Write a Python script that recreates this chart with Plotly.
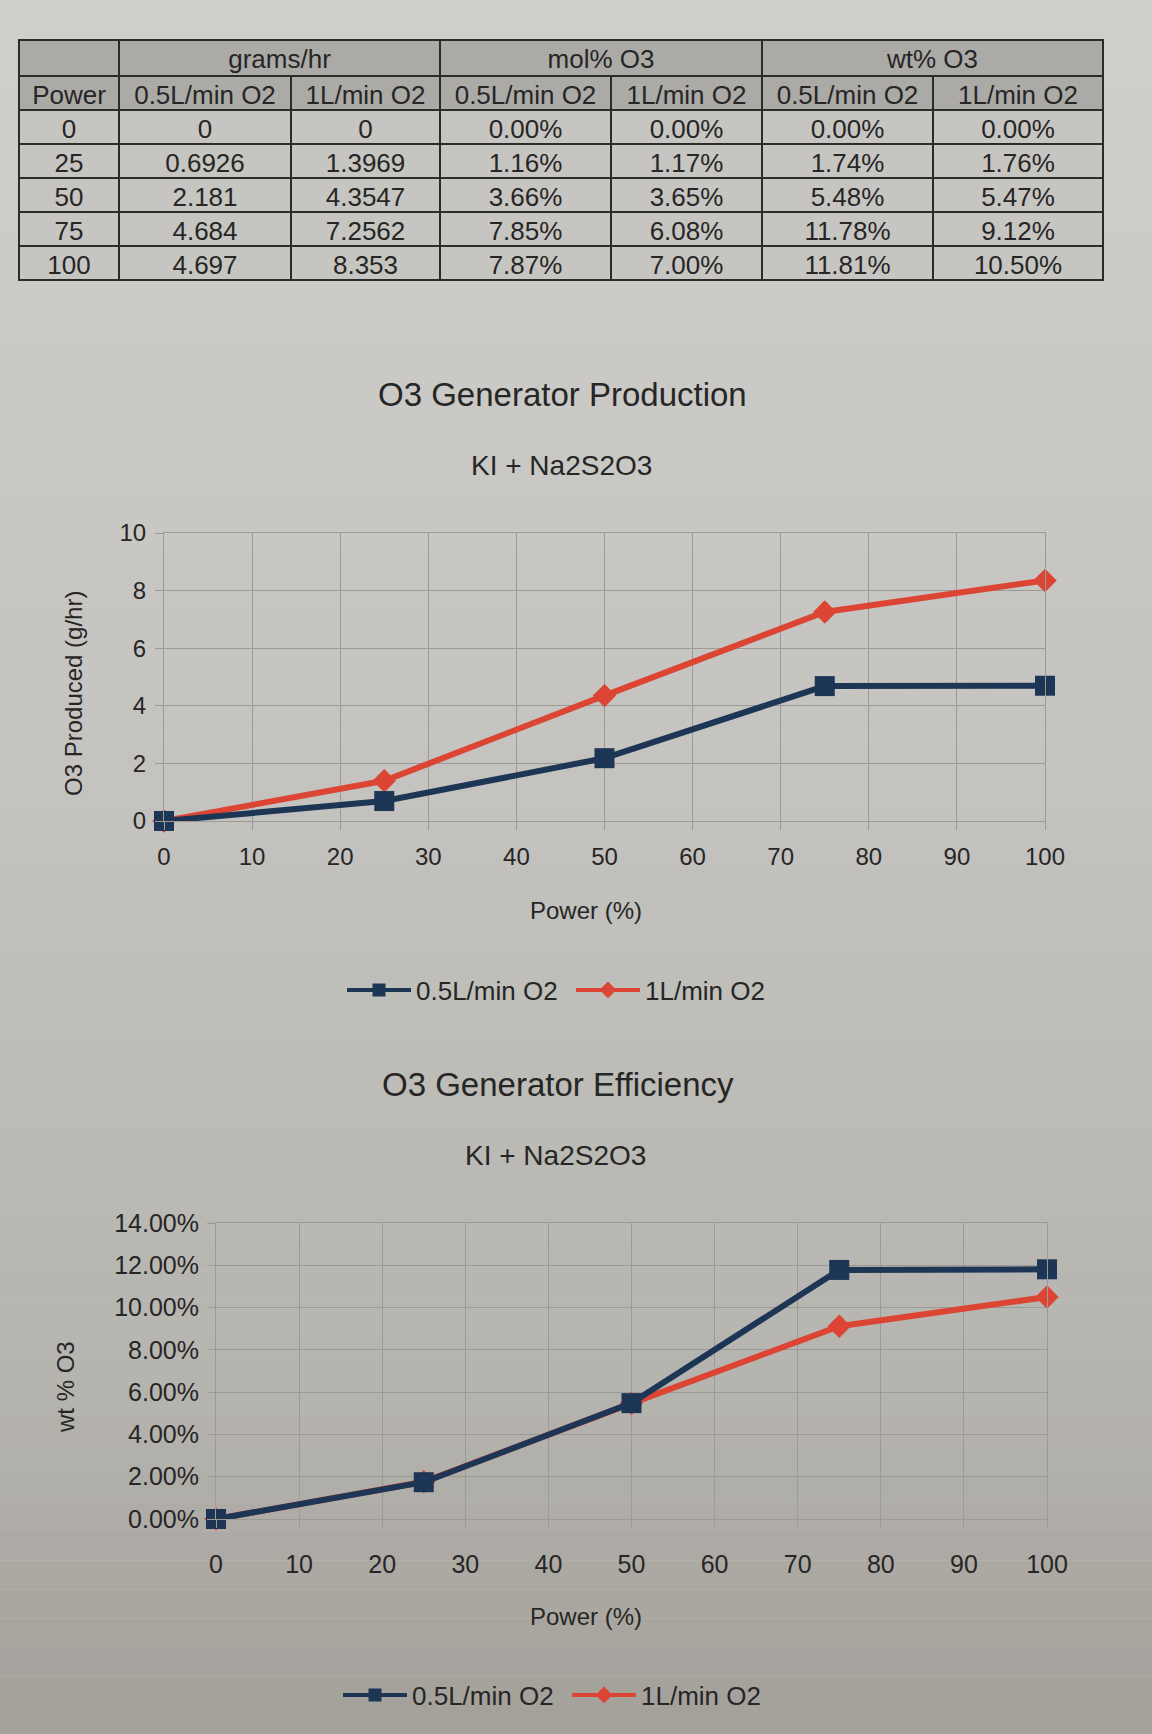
import plotly.graph_objects as go

# ---------------- data ----------------
power = [0, 25, 50, 75, 100]
gph_05 = [0, 0.6926, 2.181, 4.684, 4.697]
gph_1 = [0, 1.3969, 4.3547, 7.2562, 8.353]
mol_05 = [0.00, 1.16, 3.66, 7.85, 7.87]
mol_1 = [0.00, 1.17, 3.65, 6.08, 7.00]
wt_05 = [0.00, 1.74, 5.48, 11.78, 11.81]
wt_1 = [0.00, 1.76, 5.47, 9.12, 10.50]

group_headers = ["", "grams/hr", "mol% O3", "wt% O3"]
col_headers = ["Power", "0.5L/min O2", "1L/min O2", "0.5L/min O2",
               "1L/min O2", "0.5L/min O2", "1L/min O2"]
series_names = ["0.5L/min O2", "1L/min O2"]
x_ticks = [0, 10, 20, 30, 40, 50, 60, 70, 80, 90, 100]

# ---------------- styling ----------------
W, H = 1152, 1734
FONT = "Liberation Sans, Arial, sans-serif"
TXT = "#262626"
GRID = "#9b9a96"
BLUE = "#1d3656"
RED = "#dc4433"
HDR = "#abaaa6"
BODY = "#c6c5c1"
BORDER = "#2b2b2b"


def fx(v):
    return v / W


def fy(v):
    return 1 - v / H


fig = go.Figure()

# ---------------- table ----------------
fig.add_trace(go.Table(
    domain=dict(x=[fx(19), fx(1103)], y=[fy(80), fy(40)]),
    columnwidth=[100, 321, 322, 341],
    header=dict(values=group_headers, height=36, fill_color=HDR,
                line=dict(color=BORDER, width=2),
                font=dict(family=FONT, size=26, color=TXT), align="center"),
    cells=dict(values=[[] for _ in group_headers], height=1,
               fill_color="rgba(0,0,0,0)", line=dict(width=0)),
))

body_values = [
    [str(p) for p in power],
    [format(v, "g") for v in gph_05],
    [format(v, "g") for v in gph_1],
    [f"{v:.2f}%" for v in mol_05],
    [f"{v:.2f}%" for v in mol_1],
    [f"{v:.2f}%" for v in wt_05],
    [f"{v:.2f}%" for v in wt_1],
]
fig.add_trace(go.Table(
    domain=dict(x=[fx(19), fx(1103)], y=[fy(290), fy(76)]),
    columnwidth=[100, 172, 149, 171, 151, 171, 170],
    header=dict(values=col_headers, height=34, fill_color=HDR,
                line=dict(color=BORDER, width=2),
                font=dict(family=FONT, size=26, color=TXT), align="center"),
    cells=dict(values=body_values, height=34, fill_color=BODY,
               line=dict(color=BORDER, width=2),
               font=dict(family=FONT, size=26, color=TXT), align="center"),
))


def add_chart(xa, ya, leg, y05, y1):
    # red series drawn first so the blue series sits on top (as in the print)
    fig.add_trace(go.Scatter(x=power, y=y1, name=series_names[1], mode="lines+markers",
                             line=dict(color=RED, width=6),
                             marker=dict(symbol="diamond", size=18, color=RED),
                             cliponaxis=False, xaxis=xa, yaxis=ya, showlegend=False))
    fig.add_trace(go.Scatter(x=power, y=y05, name=series_names[0], mode="lines+markers",
                             line=dict(color=BLUE, width=6),
                             marker=dict(symbol="square", size=20, color=BLUE),
                             cliponaxis=False, xaxis=xa, yaxis=ya, showlegend=False))
    # legend entries (thinner keys, as in the print)
    fig.add_trace(go.Scatter(x=[None], y=[None], name=series_names[0], mode="lines+markers",
                             line=dict(color=BLUE, width=4),
                             marker=dict(symbol="square", size=13, color=BLUE),
                             xaxis=xa, yaxis=ya, legend=leg))
    fig.add_trace(go.Scatter(x=[None], y=[None], name=series_names[1], mode="lines+markers",
                             line=dict(color=RED, width=4),
                             marker=dict(symbol="diamond", size=13, color=RED),
                             xaxis=xa, yaxis=ya, legend=leg))


add_chart("x", "y", "legend", gph_05, gph_1)
add_chart("x2", "y2", "legend2", wt_05, wt_1)

AX = dict(showgrid=True, gridcolor=GRID, gridwidth=1,
          zeroline=True, zerolinecolor=GRID, zerolinewidth=1,
          showline=True, linecolor=GRID, linewidth=1, mirror=True,
          ticks="outside", ticklen=8, tickcolor=GRID, tickwidth=1,
          automargin=False)

fig.update_layout(
    xaxis=dict(AX, domain=[fx(164), fx(1045)], range=[0, 100], tickvals=x_ticks,
               tickfont=dict(family=FONT, size=24, color=TXT), anchor="y",
               ticklabelstandoff=6),
    yaxis=dict(AX, domain=[fy(821), fy(533)], range=[0, 10], dtick=2,
               tickfont=dict(family=FONT, size=24, color=TXT), anchor="x",
               ticklabelstandoff=4),
    xaxis2=dict(AX, domain=[fx(216), fx(1047)], range=[0, 100], tickvals=x_ticks,
                tickfont=dict(family=FONT, size=25, color=TXT), anchor="y2",
                ticklabelstandoff=15),
    yaxis2=dict(AX, domain=[fy(1519), fy(1223)], range=[0, 14], dtick=2,
                tickformat=".2f", ticksuffix="%",
                tickfont=dict(family=FONT, size=25, color=TXT), anchor="x2",
                ticklabelstandoff=3),
)

LEG = dict(orientation="h", xanchor="left", yanchor="middle",
           bgcolor="rgba(0,0,0,0)", font=dict(family=FONT, size=26, color=TXT),
           itemsizing="trace", itemwidth=64, entrywidth=150, entrywidthmode="pixels")
fig.update_layout(
    legend=dict(LEG, x=fx(342), y=fy(990)),
    legend2=dict(LEG, x=fx(338), y=fy(1695)),
)

# ---------------- text ----------------
ann = []


def add_text(text, x, y, size, angle=0):
    ann.append(dict(text=text, x=fx(x), y=fy(y), xref="paper", yref="paper",
                    showarrow=False, xanchor="center", yanchor="middle",
                    textangle=angle, font=dict(family=FONT, size=size, color=TXT)))


add_text("O3 Generator Production", 562, 395, 33)
add_text("KI + Na2S2O3", 561, 465, 28)
add_text("Power (%)", 586, 910, 24)
add_text("O3 Produced (g/hr)", 73, 694, 24, -90)
add_text("O3 Generator Efficiency", 558, 1084, 33)
add_text("KI + Na2S2O3", 555, 1155, 28)
add_text("Power (%)", 586, 1616, 24)
add_text("wt % O3", 65, 1387, 24, -90)

# ---------------- paper background (photo tint) ----------------
stops = [(0.0, (208, 207, 203)), (0.45, (196, 195, 191)),
         (0.8, (182, 180, 175)), (1.0, (163, 159, 153))]
shapes = []
n = 60
for i in range(n):
    t = (i + 0.5) / n
    for (t0, c0), (t1, c1) in zip(stops[:-1], stops[1:]):
        if t0 <= t <= t1:
            f = (t - t0) / (t1 - t0)
            c = tuple(round(a + (b - a) * f) for a, b in zip(c0, c1))
            break
    shapes.append(dict(type="rect", xref="paper", yref="paper", x0=0, x1=1,
                       y0=1 - (i + 1) / n, y1=1 - i / n, layer="below",
                       line=dict(width=0), fillcolor="rgb(%d,%d,%d)" % c))

fig.update_layout(
    template="none",
    width=W, height=H, autosize=False,
    margin=dict(l=0, r=0, t=0, b=0, pad=0),
    paper_bgcolor="rgb(196,195,191)", plot_bgcolor="rgba(0,0,0,0)",
    annotations=ann, shapes=shapes,
    font=dict(family=FONT, color=TXT),
)

fig.write_html("out.html")
